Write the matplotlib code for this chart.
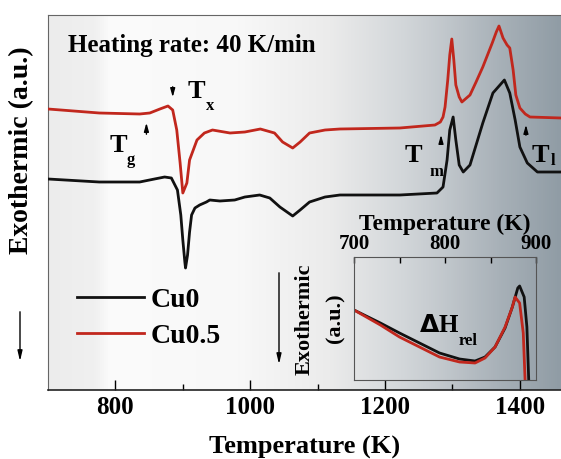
import numpy as np
import matplotlib
matplotlib.use('Agg')
from matplotlib import pyplot as plt
from matplotlib.colors import LinearSegmentedColormap

plt.rcParams['font.family'] = ['Liberation Serif', 'DejaVu Serif']
plt.rcParams['font.weight'] = 'bold'
plt.rcParams['axes.labelweight'] = 'bold'

# main DSC curves (temperature in K, signal in a.u.)
cu0_T = [700, 776, 836, 858, 873, 883, 892, 897, 900, 903, 904, 907, 910, 913,
         918, 925, 935, 940, 955, 977, 992, 1014, 1029, 1044, 1063, 1074, 1088,
         1111, 1133, 1222, 1277, 1286, 1292, 1296, 1301, 1305, 1310, 1316, 1326,
         1345, 1360, 1377, 1385, 1393, 1400, 1411, 1426, 1461]
cu0_S = [211, 208, 208, 211, 213, 212, 200, 175, 150, 128, 122, 135, 158, 175,
         182, 185, 188, 190, 189, 190, 193, 195, 192, 183, 174, 180, 188,
         193, 195, 195, 197, 203, 230, 260, 273, 250, 225, 218, 225,
         267, 297, 310, 297, 270, 243, 227, 218, 218]

cu05_T = [700, 776, 836, 851, 866, 878, 885, 891, 896, 900, 906, 910, 921, 932,
          944, 970, 992, 1015, 1036, 1048, 1063, 1074, 1088, 1111, 1133, 1222,
          1274, 1282, 1286, 1289, 1293, 1296, 1299, 1302, 1305, 1310, 1314,
          1326, 1335, 1345, 1352, 1359, 1365, 1369, 1375, 1381, 1385, 1390,
          1394, 1400, 1408, 1415, 1461]
cu05_S = [281, 277, 276, 277, 281, 284, 280, 260, 227, 197, 207, 230, 250, 257,
          260, 257, 258, 261, 257, 248, 242, 248, 257, 260, 261, 262,
          265, 268, 273, 283, 310, 335, 351, 330, 305, 293, 288,
          295, 308, 323, 335, 347, 358, 364, 352, 345, 342, 320,
          295, 282, 276, 273, 272]

# inset curves
in_cu0_T = [700, 729, 750, 772, 794, 816, 833, 844, 855, 866, 874, 880, 882,
            887, 890, 892]
in_cu0_S = [70, 57, 47, 37, 27, 21, 19, 23, 33, 52, 73, 92, 94, 83, 53, 0]
in_cu05_T = [700, 729, 750, 772, 794, 816, 833, 844, 855, 866, 874, 877, 882,
             886, 888]
in_cu05_S = [70, 55, 43, 33, 23, 18, 17, 22, 33, 53, 73, 83, 77, 47, 0]

main_ticks = [800, 1000, 1200, 1400]
inset_ticks = [700, 800, 900]

red = '#c1271d'
black = '#111111'
W, H = 561, 459

fig = plt.figure(figsize=(W / 100, H / 100), dpi=100)
ax = fig.add_axes([48 / W, 1 - 390 / H, (W - 48) / W, 375 / H])

# background gradient
stops = [(0.0, '#ececec'), (0.09, '#f0f0f0'), (0.12, '#fbfbfb'),
         (0.37, '#f8f8f8'), (0.55, '#ebebeb'), (0.69, '#d3d7da'),
         (0.78, '#c0c6cb'), (0.88, '#a8b1b8'), (1.0, '#909ca5')]
cmap = LinearSegmentedColormap.from_list('bg', stops)
grad = np.linspace(0, 1, 512).reshape(1, -1)
ax.imshow(grad, cmap=cmap, aspect='auto', extent=[700, 1461, 0, 375],
          zorder=0)

ax.plot(cu0_T, cu0_S, color=black, lw=2.0, label='Cu0', zorder=3)
ax.plot(cu05_T, cu05_S, color=red, lw=2.0, label='Cu0.5', zorder=3)
ax.set_xlim(700, 1461)
ax.set_ylim(0, 375)

ax.set_xticks(main_ticks)
ax.set_xticks([900, 1100, 1300], minor=True)
ax.tick_params(axis='x', which='major', direction='in', length=7, width=1,
               labelsize=18, pad=4)
ax.tick_params(axis='x', which='minor', direction='in', length=4, width=1)
ax.set_yticks([])
ax.spines['right'].set_visible(False)
for s in ['top', 'left']:
    ax.spines[s].set_color('#666666')
ax.spines['bottom'].set_color('#222222')
ax.spines['bottom'].set_linewidth(1.2)

ax.text(729, 338, 'Heating rate: 40 K/min', fontsize=18, va='baseline')

# characteristic temperatures
aprops = dict(arrowstyle='-|>,head_length=0.5,head_width=0.14', color='k',
              lw=1)
ax.annotate('', xy=(846, 270), xytext=(846, 253), arrowprops=aprops)
ax.annotate('', xy=(885, 290), xytext=(885, 306), arrowprops=aprops)
ax.annotate('', xy=(1283, 258), xytext=(1283, 243), arrowprops=aprops)
ax.annotate('', xy=(1409, 268), xytext=(1409, 252), arrowprops=aprops)

ax.text(791, 238, 'T', fontsize=19, va='baseline')
ax.text(816, 226, 'g', fontsize=12, va='baseline')
ax.text(907, 292, 'T', fontsize=19, va='baseline')
ax.text(935, 280, 'x', fontsize=12, va='baseline')
ax.text(1229, 228, 'T', fontsize=19, va='baseline')
ax.text(1266, 214, 'm', fontsize=12, va='baseline')
ax.text(1418, 228, 'T', fontsize=19, va='baseline')
ax.text(1446, 225, 'l', fontsize=12, va='baseline')

ax.legend(loc='center left', bbox_to_anchor=(77 / W, 1 - 318 / H),
          bbox_transform=fig.transFigure, frameon=False, fontsize=20,
          handlelength=2.4, handletextpad=0.25, labelspacing=0.38,
          borderpad=0, borderaxespad=0)

fig.text(305 / W, 1 - 454 / H, 'Temperature (K)', fontsize=19,
         ha='center', va='baseline')
fig.text(22 / W, 1 - 150 / H, 'Exothermic (a.u.)', fontsize=20,
         rotation=90, ha='center', va='center')

# downward arrows
fig_arrow = dict(arrowstyle='-|>,head_length=0.6,head_width=0.14', color='k',
                 lw=1)
ax.annotate('', xy=(20 / W, 1 - 364 / H), xytext=(20 / W, 1 - 309 / H),
            xycoords='figure fraction', arrowprops=fig_arrow)
ax.annotate('', xy=(279 / W, 1 - 367 / H), xytext=(279 / W, 1 - 270 / H),
            xycoords='figure fraction', arrowprops=fig_arrow)

# inset
axin = fig.add_axes([354 / W, 1 - 380 / H, 182 / W, 123 / H])
axin.patch.set_alpha(0)
axin.plot(in_cu0_T, in_cu0_S, color=black, lw=2.0)
axin.plot(in_cu05_T, in_cu05_S, color=red, lw=2.0)
axin.set_xlim(700, 900)
axin.set_ylim(0, 123)
axin.set_xticks(inset_ticks)
axin.set_xticks([750, 850], minor=True)
axin.set_yticks([])
axin.xaxis.tick_top()
axin.xaxis.set_label_position('top')
axin.tick_params(axis='x', which='both', direction='in', length=4, width=1,
                 labelsize=15, pad=2)
for s in axin.spines.values():
    s.set_color('#555555')
axin.set_xlabel('Temperature (K)', fontsize=17, labelpad=3)
axin.text(794, 55, r'$\mathbf{\Delta}$H', fontsize=18, ha='center',
          va='center')
axin.text(815, 35, 'rel', fontsize=12, va='baseline')

fig.text(305 / W, 1 - 319 / H, 'Exothermic', fontsize=16, rotation=90,
         ha='center', va='center')
fig.text(335 / W, 1 - 318 / H, '(a.u.)', fontsize=16, rotation=90,
         ha='center', va='center')

plt.savefig('out.png', dpi=100)
